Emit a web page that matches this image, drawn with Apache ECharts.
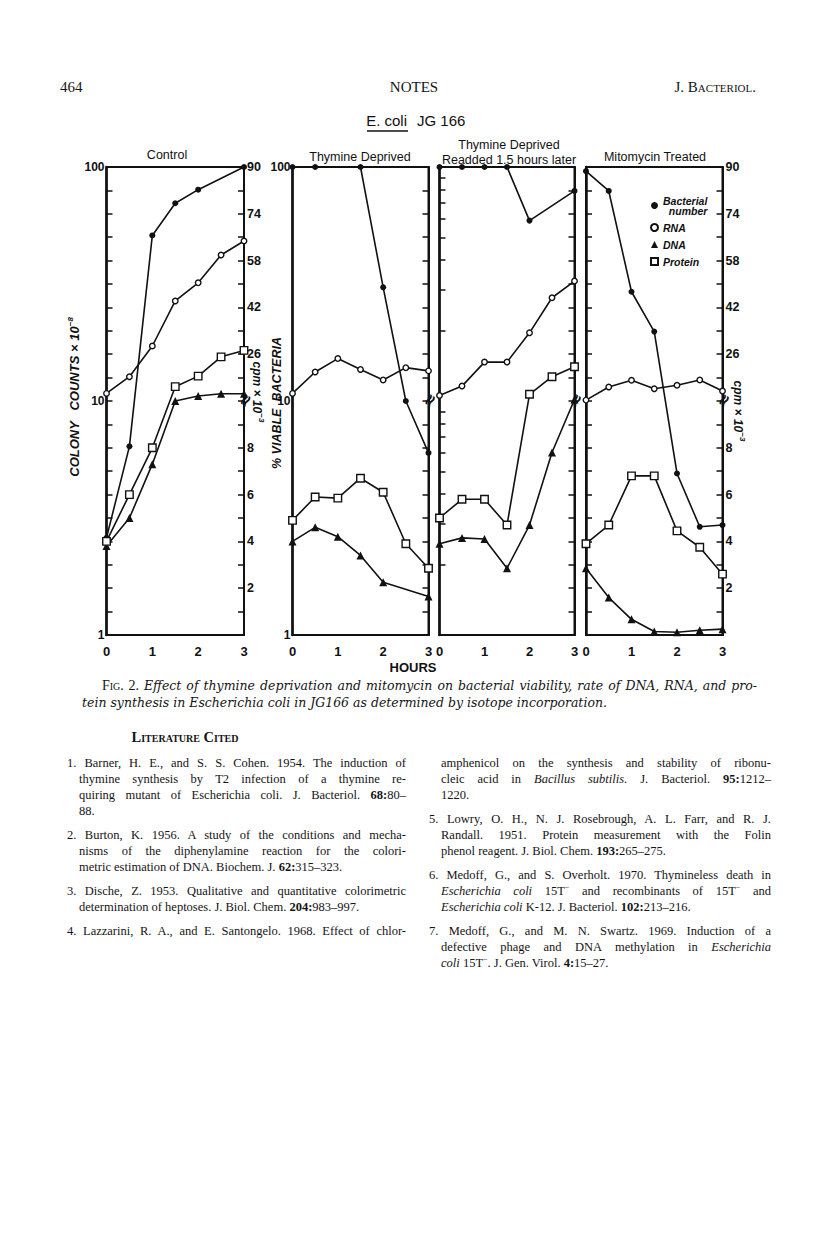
<!DOCTYPE html>
<html><head><meta charset="utf-8">
<script src="https://cdn.jsdelivr.net/npm/echarts@6/dist/echarts.min.js"></script>
<style>
body{margin:0;background:#fff;}
#page{position:relative;width:816px;height:1259px;overflow:hidden;background:#fff;}
#chart{position:absolute;left:0;top:0;width:816px;height:690px;}
.t{position:absolute;font-family:"Liberation Serif","DejaVu Serif",serif;color:#141414;white-space:nowrap;line-height:16px;}
.r{font-size:12.5px;}
.cap{font-family:"DejaVu Serif","Liberation Serif",serif;font-size:12.5px;font-style:italic;}
.j{text-align:justify;text-align-last:justify;white-space:normal;}
.sc{font-variant:small-caps;}
b{font-weight:bold;}
</style></head><body>
<div id="page">
<div id="chart"></div>

<div class="t" style="left:60px;top:79px;font-size:15px;">464</div>
<div class="t" style="left:354px;top:79px;width:120px;text-align:center;font-size:15px;">NOTES</div>
<div class="t sc" style="left:580px;top:79px;width:176px;text-align:right;font-size:15px;">J. Bacteriol.</div>

<div class="t cap j" style="left:102px;top:678px;width:655px;"><span class="sc" style="font-style:normal;font-family:'Liberation Serif',serif;font-size:14px;">Fig. 2.</span> Effect of thymine deprivation and mitomycin on bacterial viability, rate of DNA, RNA, and pro-</div>
<div class="t cap" style="left:82px;top:695px;">tein synthesis in Escherichia coli in JG166 as determined by isotope incorporation.</div>

<div class="t sc" style="left:105px;top:729px;width:160px;text-align:center;font-size:14.5px;font-weight:bold;">Literature Cited</div>

<div class="t r j" style="left:67px;top:755px;width:339px;">1. Barner, H. E., and S. S. Cohen. 1954. The induction of</div>
<div class="t r j" style="left:79px;top:771px;width:327px;">thymine synthesis by T2 infection of a thymine re-</div>
<div class="t r j" style="left:79px;top:787px;width:327px;">quiring mutant of Escherichia coli. J. Bacteriol. <b>68:</b>80–</div>
<div class="t r" style="left:79px;top:803px;">88.</div>
<div class="t r j" style="left:67px;top:827px;width:339px;">2. Burton, K. 1956. A study of the conditions and mecha-</div>
<div class="t r j" style="left:79px;top:843px;width:327px;">nisms of the diphenylamine reaction for the colori-</div>
<div class="t r" style="left:79px;top:859px;">metric estimation of DNA. Biochem. J. <b>62:</b>315–323.</div>
<div class="t r j" style="left:67px;top:883px;width:339px;">3. Dische, Z. 1953. Qualitative and quantitative colorimetric</div>
<div class="t r" style="left:79px;top:899px;">determination of heptoses. J. Biol. Chem. <b>204:</b>983–997.</div>
<div class="t r j" style="left:67px;top:923px;width:339px;">4. Lazzarini, R. A., and E. Santongelo. 1968. Effect of chlor-</div>

<div class="t r j" style="left:441px;top:755px;width:330px;">amphenicol on the synthesis and stability of ribonu-</div>
<div class="t r j" style="left:441px;top:771px;width:330px;">cleic acid in <i>Bacillus subtilis</i>. J. Bacteriol. <b>95:</b>1212–</div>
<div class="t r" style="left:441px;top:787px;">1220.</div>
<div class="t r j" style="left:429px;top:811px;width:342px;">5. Lowry, O. H., N. J. Rosebrough, A. L. Farr, and R. J.</div>
<div class="t r j" style="left:441px;top:827px;width:330px;">Randall. 1951. Protein measurement with the Folin</div>
<div class="t r" style="left:441px;top:843px;">phenol reagent. J. Biol. Chem. <b>193:</b>265–275.</div>
<div class="t r j" style="left:429px;top:867px;width:342px;">6. Medoff, G., and S. Overholt. 1970. Thymineless death in</div>
<div class="t r j" style="left:441px;top:883px;width:330px;"><i>Escherichia coli</i> 15T<sup style="font-size:8px;line-height:0">−</sup> and recombinants of 15T<sup style="font-size:8px;line-height:0">−</sup> and</div>
<div class="t r" style="left:441px;top:899px;"><i>Escherichia coli</i> K-12. J. Bacteriol. <b>102:</b>213–216.</div>
<div class="t r j" style="left:429px;top:923px;width:342px;">7. Medoff, G., and M. N. Swartz. 1969. Induction of a</div>
<div class="t r j" style="left:441px;top:939px;width:330px;">defective phage and DNA methylation in <i>Escherichia</i></div>
<div class="t r" style="left:441px;top:955px;"><i>coli</i> 15T<sup style="font-size:8px;line-height:0">−</sup>. J. Gen. Virol. <b>4:</b>15–27.</div>
</div>

<script>
// ---- data ----
const hours = [0, 0.5, 1, 1.5, 2, 2.5, 3];
const xTickLabels = ['0', '1', '2', '3'];
const panelTitles = ['Control', 'Thymine Deprived', 'Thymine Deprived\nReadded 1.5 hours later', 'Mitomycin Treated'];
const seriesNames = ['Bacterial number', 'RNA', 'DNA', 'Protein'];
const leftTickLabels = [1, 10, 100];
const rightTickLabels = [2, 4, 6, 8, 26, 42, 58, 74, 90];

// bacterial number (log scale, colony counts x10^-8 / % viable)
const ctrlBact = [2.6, 6.4, 51, 70, 80, null, 100];
const tdBact   = [100, 100, null, 100, 30.6, 10.0, 6.0];
const raBact   = [100, 100, 100, 100, 59, null, 79];
const mtBact   = [96, 79, 29.3, 19.8, 4.9, 2.9, 2.95];
// RNA (cpm x10^-3)
const ctrlRNA = [12.6, 18.3, 28.8, 44.2, 50.4, 59.9, 64.7];
const tdRNA   = [12.6, 19.9, 24.5, 20.8, 17.2, 21.4, 20.3];
const raRNA   = [11.9, 15.1, 23.3, 23.3, 33.3, 45.3, 51.0];
const mtRNA   = [10.3, 14.8, 17.1, 14.2, 15.4, 17.2, 13.4];
// DNA (cpm x10^-3)
const ctrlDNA = [3.8, 5.0, 7.3, 10.0, 11.7, 12.5, 12.5];
const tdDNA   = [4.0, 4.6, 4.2, 3.4, 2.25, null, 1.65];
const raDNA   = [3.9, 4.15, 4.1, 2.85, 4.7, 7.8, 10.5];
const mtDNA   = [2.85, 1.6, 0.67, 0.15, 0.12, 0.2, 0.25];
// Protein (cpm x10^-3)
const ctrlProt = [4.0, 6.0, 8.0, 14.9, 18.5, 25.1, 27.3];
const tdProt   = [4.9, 5.9, 5.85, 6.7, 6.1, 3.9, 2.85];
const raProt   = [5.0, 5.8, 5.8, 4.7, 12.3, 18.3, 21.7];
const mtProt   = [3.9, 4.7, 6.8, 6.8, 4.45, 3.75, 2.6];

const panels = [
  [ctrlBact, ctrlRNA, ctrlDNA, ctrlProt],
  [tdBact, tdRNA, tdDNA, tdProt],
  [raBact, raRNA, raDNA, raProt],
  [mtBact, mtRNA, mtDNA, mtProt]
];

// broken cpm axis: 0-10 on lower half, 10-90 on upper half
const toBroken = v => v <= 10 ? v : 10 + (v - 10) / 8;
const fromBroken = p => p <= 10 ? p : 10 + (p - 10) * 8;

// ---- layout ----
const gridBox = [
  {left: 106.5, width: 137.5},
  {left: 292.5, width: 136},
  {left: 439.5, width: 135},
  {left: 586, width: 136.5}
];
const TOP = 167, H = 468;
const FONT = '"Liberation Sans", Arial, sans-serif';

const uniformTicks = Array.from({length: 19}, (_, k) => Math.pow(10, (k + 1) / 10));
const logMinorTicks = [2,3,4,5,6,7,8,9,20,30,40,50,60,70,80,90];
const leftTickSets = [uniformTicks, [], logMinorTicks, uniformTicks];
const showLeftLabels = [true, true, false, false];
const showRightLabels = [true, false, false, true];

const grid = [], xAxis = [], yAxis = [], series = [];
gridBox.forEach((g, i) => {
  grid.push({left: g.left, width: g.width, top: TOP, height: H, show: true,
    borderColor: '#111', borderWidth: 2, backgroundColor: 'transparent'});
  xAxis.push({type: 'value', gridIndex: i, min: 0, max: 3, interval: 1,
    axisLine: {show: true, lineStyle: {color: '#111', width: 2}},
    axisTick: {show: false}, splitLine: {show: false},
    axisLabel: {color: '#111', fontSize: 13, fontWeight: 'bold', fontFamily: FONT, margin: 10,
      formatter: v => xTickLabels[v] !== undefined ? xTickLabels[v] : ''}});
  yAxis.push({type: 'log', logBase: 10, gridIndex: i, min: 1, max: 100, position: 'left',
    axisLine: {show: true, lineStyle: {color: '#111', width: 2.5}},
    splitLine: {show: false}, minorTick: {show: false},
    axisTick: {show: leftTickSets[i].length > 0, inside: true, length: 6,
      customValues: leftTickSets[i], lineStyle: {color: '#111', width: 1.5}},
    axisLabel: {show: showLeftLabels[i], customValues: leftTickLabels, color: '#111',
      fontSize: 12, fontWeight: 'bold', fontFamily: FONT, margin: 2,
      formatter: v => String(Math.round(v))}});
  yAxis.push({type: 'value', gridIndex: i, min: 0, max: 20, interval: 1, position: 'right',
    axisLine: {show: true, lineStyle: {color: '#111', width: 2}},
    splitLine: {show: false},
    axisTick: {show: true, inside: true, length: 6, lineStyle: {color: '#111', width: 1.5}},
    axisLabel: {show: showRightLabels[i], color: '#111', fontSize: 12.5, fontWeight: 'bold',
      fontFamily: FONT, margin: 3, showMaxLabel: true, showMinLabel: false,
      formatter: p => { const v = Math.round(fromBroken(p)); return rightTickLabels.includes(v) ? String(v) : ''; }}});

  const [bact, rna, dna, prot] = panels[i];
  const pts = (arr, f) => hours.map((h, k) => [h, arr[k]]).filter(d => d[1] != null).map(d => [d[0], f ? f(d[1]) : d[1]]);
  const line = {color: '#111', width: 1.6};
  series.push({name: seriesNames[0], type: 'line', xAxisIndex: i, yAxisIndex: 2 * i,
    data: pts(bact), symbol: 'circle', symbolSize: 6, lineStyle: line,
    itemStyle: {color: '#111'}, z: 3});
  series.push({name: seriesNames[1], type: 'line', xAxisIndex: i, yAxisIndex: 2 * i + 1,
    data: pts(rna, toBroken), symbol: 'circle', symbolSize: 5.5, lineStyle: line,
    itemStyle: {color: '#fff', borderColor: '#111', borderWidth: 1.4}, z: 4});
  series.push({name: seriesNames[2], type: 'line', xAxisIndex: i, yAxisIndex: 2 * i + 1,
    data: pts(dna, toBroken), symbol: 'triangle', symbolSize: 8, lineStyle: line,
    itemStyle: {color: '#111'}, z: 4});
  series.push({name: seriesNames[3], type: 'line', xAxisIndex: i, yAxisIndex: 2 * i + 1,
    data: pts(prot, toBroken), symbol: 'rect', symbolSize: 7.5, lineStyle: line,
    itemStyle: {color: '#fff', borderColor: '#111', borderWidth: 1.4}, z: 4});
});

const txt = (x, y, text, o) => Object.assign({type: 'text', x: x, y: y, z: 10,
  style: Object.assign({text: text, fill: '#111', fontFamily: FONT, fontSize: 12.5,
    align: 'center', verticalAlign: 'middle'}, (o && o.style) || {})}, (o && o.el) || {});

const supRich = {a: {fontStyle: 'italic', fontWeight: 'bold', fontSize: 12, fontFamily: FONT, fill: '#111'},
                 s: {fontStyle: 'italic', fontWeight: 'bold', fontSize: 8, fontFamily: FONT, fill: '#111', padding: [0, 0, 8, 0]}};

const graphic = [
  txt(407, 120, 'E. coli', {style: {fontSize: 15, align: 'right', fontWeight: 500}}),
  txt(417, 120, 'JG 166', {style: {fontSize: 15, align: 'left', fontWeight: 500}}),
  {type: 'line', shape: {x1: 367, y1: 131, x2: 408, y2: 131}, style: {stroke: '#111', lineWidth: 1.6}},
  txt(167, 155, panelTitles[0]),
  txt(360, 157, panelTitles[1]),
  txt(509, 152, panelTitles[2], {style: {lineHeight: 15}}),
  txt(655, 157, panelTitles[3]),
  txt(413, 667, 'HOURS', {style: {fontSize: 13, fontWeight: 'bold'}}),
  txt(74, 397, '{a|COLONY   COUNTS × 10}{s|−8}', {el: {rotation: Math.PI / 2},
    style: {rich: {a: Object.assign({}, supRich.a, {fontSize: 13}), s: supRich.s}}}),
  txt(277, 403, '% VIABLE  BACTERIA', {el: {rotation: Math.PI / 2},
    style: {fontStyle: 'italic', fontWeight: 'bold', fontSize: 12.5}}),
  txt(257, 392, '{a|cpm × 10}{s|−3}', {el: {rotation: -Math.PI / 2}, style: {rich: supRich}}),
  txt(738, 411, '{a|cpm × 10}{s|−3}', {el: {rotation: -Math.PI / 2}, style: {rich: supRich}})
];
gridBox.forEach(g => {
  graphic.push(txt(g.left + g.width + 1, 400, '≈', {el: {rotation: 1.0},
    style: {fontSize: 17, fontWeight: 'bold', fontFamily: '"DejaVu Sans", sans-serif'}}));
});

const option = {
  animation: false,
  backgroundColor: 'transparent',
  grid, xAxis, yAxis, series, graphic,
  legend: {
    orient: 'vertical', left: 645, top: 190, itemWidth: 7, itemHeight: 7, itemGap: 6,
    selectedMode: false,
    data: [{name: seriesNames[0], icon: 'circle'}, {name: seriesNames[1], icon: 'circle'},
           {name: seriesNames[2], icon: 'triangle'}, {name: seriesNames[3], icon: 'rect'}],
    formatter: n => n === seriesNames[0] ? '{a|Bacterial}\n{b|number}' : '{a|' + n + '}',
    textStyle: {color: '#111', fontStyle: 'italic', fontWeight: 'bold', fontSize: 10.5, fontFamily: FONT,
      rich: {a: {fontStyle: 'italic', fontWeight: 'bold', fontSize: 10.5, lineHeight: 10, fontFamily: FONT, color: '#111'},
             b: {fontStyle: 'italic', fontWeight: 'bold', fontSize: 10.5, lineHeight: 10, fontFamily: FONT, color: '#111', align: 'right'}}}
  }
};
const chart = echarts.init(document.getElementById('chart'), null, {renderer: 'svg'});
chart.setOption(option);
</script>
</body></html>
